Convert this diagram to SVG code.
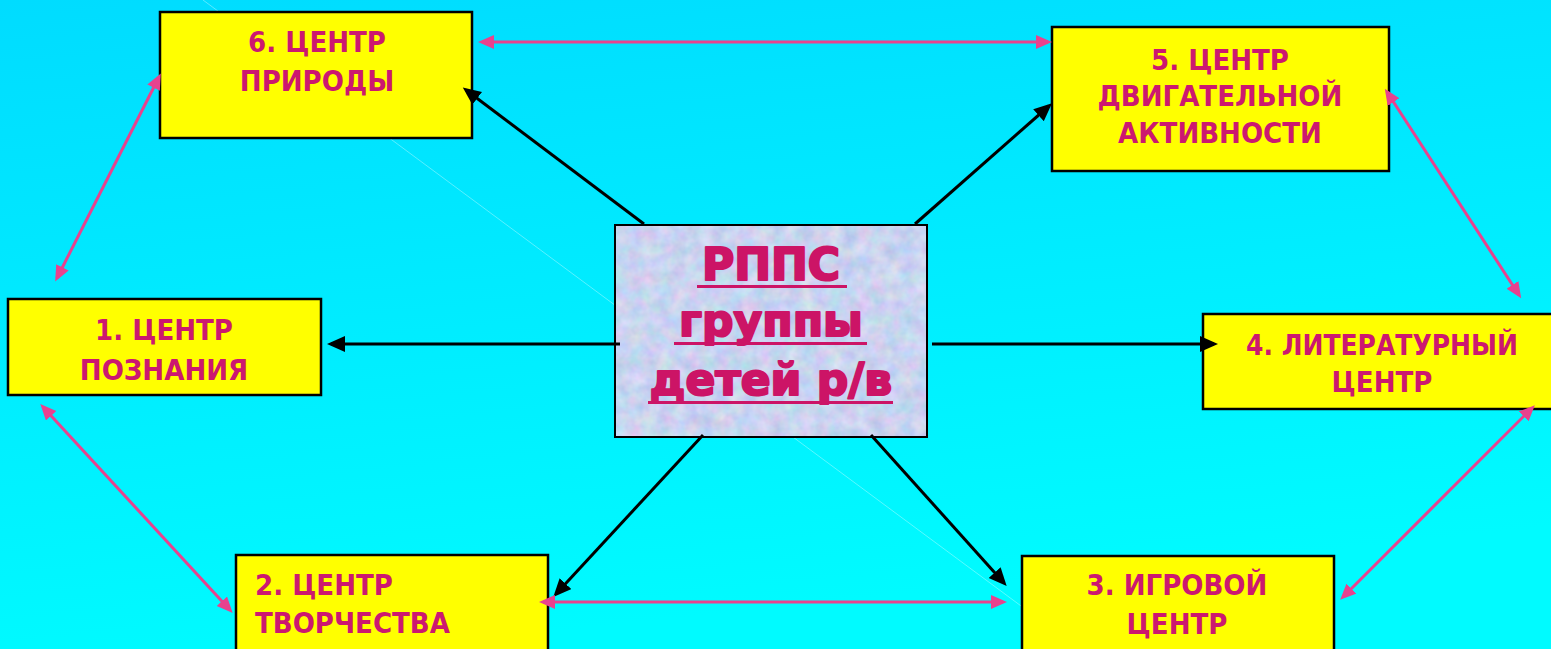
<svg xmlns="http://www.w3.org/2000/svg" width="1551" height="649" viewBox="0 0 1551 649">
<defs>
<linearGradient id="bg" x1="0" y1="0" x2="0.25" y2="1">
<stop offset="0" stop-color="#00DCFF"/>
<stop offset="1" stop-color="#00FBFF"/>
</linearGradient>
<filter id="tex" x="0" y="0" width="1" height="1" color-interpolation-filters="sRGB">
<feTurbulence type="fractalNoise" baseFrequency="0.07" numOctaves="3" seed="4" result="n"/>
<feColorMatrix in="n" type="matrix" values="0.28 0 0 0 0.65  0 0.2 0 0 0.73  0 0 0.12 0 0.88  0 0 0 0 1" result="c"/>
<feComposite in="c" in2="SourceGraphic" operator="in"/>
</filter>
<marker id="ab" markerUnits="userSpaceOnUse" markerWidth="19" markerHeight="17" refX="14" refY="8" orient="auto">
<path d="M0,0 L18,8 L0,16 Z" fill="#000"/>
</marker>
<marker id="ap" markerUnits="userSpaceOnUse" markerWidth="17" markerHeight="15" refX="12" refY="7" orient="auto-start-reverse">
<path d="M0,0 L16,7 L0,14 Z" fill="#E8428E"/>
</marker>
<style>
.box{fill:#FFFF00;stroke:#000;stroke-width:2.5}
.lbl{font-family:"DejaVu Sans Condensed","DejaVu Sans","Liberation Sans",sans-serif;font-weight:bold;font-size:29px;fill:#CC1870;text-anchor:middle}
.left{text-anchor:start}
.ctr{font-family:"DejaVu Sans","Liberation Sans",sans-serif;font-weight:bold;font-size:44px;fill:#CC1466;stroke:#CC1466;stroke-width:2.2;stroke-linejoin:round;text-anchor:middle}
.ul{fill:#CC1466}
.blk{stroke:#000;stroke-width:3;fill:none;marker-end:url(#ab)}
.pnk{stroke:#E8428E;stroke-width:3;fill:none;marker-start:url(#ap);marker-end:url(#ap)}
</style>
</defs>
<rect x="0" y="0" width="1551" height="649" fill="url(#bg)"/>
<line x1="203" y1="0" x2="1040" y2="620" stroke="#FFFFFF" stroke-opacity="0.35" stroke-width="1"/>

<g id="center">
<rect x="615" y="225" width="312" height="212" fill="#CCD8F4" filter="url(#tex)"/>
<rect x="615" y="225" width="312" height="212" fill="none" stroke="#000" stroke-width="2"/>
<text class="ctr" x="771" y="280">РППС</text>
<text class="ctr" x="771" y="336">группы</text>
<text class="ctr" x="771" y="395">детей р/в</text>
<rect class="ul" x="697" y="285" width="150" height="3"/>
<rect class="ul" x="674" y="342" width="193" height="3"/>
<rect class="ul" x="648" y="401" width="245" height="3"/>
</g>

<g id="node6">
<rect class="box" x="160" y="12" width="312" height="126"/>
<text class="lbl" x="317" y="52">6. ЦЕНТР</text>
<text class="lbl" x="317" y="91">ПРИРОДЫ</text>
</g>

<g id="node5">
<rect class="box" x="1052" y="27" width="337" height="144"/>
<text class="lbl" x="1220" y="70">5. ЦЕНТР</text>
<text class="lbl" x="1220" y="106">ДВИГАТЕЛЬНОЙ</text>
<text class="lbl" x="1220" y="143">АКТИВНОСТИ</text>
</g>

<g id="node1">
<rect class="box" x="8" y="299" width="313" height="96"/>
<text class="lbl" x="164" y="340">1. ЦЕНТР</text>
<text class="lbl" x="164" y="380">ПОЗНАНИЯ</text>
</g>

<g id="node4">
<rect class="box" x="1203" y="314" width="360" height="95"/>
<text class="lbl" x="1382" y="355" textLength="272" lengthAdjust="spacingAndGlyphs">4. ЛИТЕРАТУРНЫЙ</text>
<text class="lbl" x="1382" y="392">ЦЕНТР</text>
</g>

<g id="node2">
<rect class="box" x="236" y="555" width="312" height="110"/>
<text class="lbl left" x="255" y="595">2. ЦЕНТР</text>
<text class="lbl left" x="255" y="633">ТВОРЧЕСТВА</text>
</g>

<g id="node3">
<rect class="box" x="1022" y="556" width="312" height="110"/>
<text class="lbl" x="1177" y="595">3. ИГРОВОЙ</text>
<text class="lbl" x="1177" y="634">ЦЕНТР</text>
</g>

<g id="connectors">
<line class="blk" x1="644" y1="224" x2="466" y2="90"/>
<line class="blk" x1="915" y1="224" x2="1049" y2="106"/>
<line class="blk" x1="620" y1="344" x2="331" y2="344"/>
<line class="blk" x1="932" y1="344" x2="1214" y2="344"/>
<line class="blk" x1="703" y1="435" x2="556" y2="594"/>
<line class="blk" x1="871" y1="435" x2="1004" y2="583"/>
<line class="pnk" x1="482" y1="42" x2="1048" y2="42"/>
<line class="pnk" x1="159" y1="77" x2="57" y2="278"/>
<line class="pnk" x1="1387" y1="92" x2="1519" y2="295"/>
<line class="pnk" x1="43" y1="407" x2="230" y2="610"/>
<line class="pnk" x1="1532" y1="408" x2="1343" y2="597"/>
<line class="pnk" x1="543" y1="602" x2="1003" y2="602"/>
</g>
</svg>
